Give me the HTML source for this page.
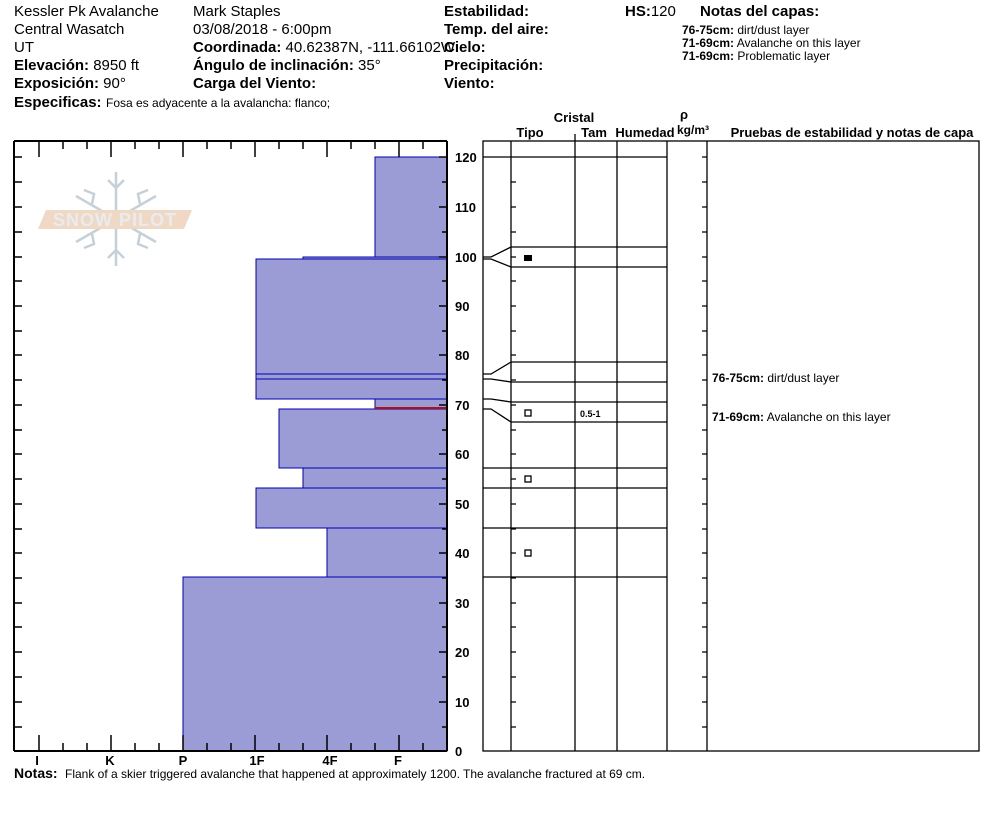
<!DOCTYPE html>
<html><head><meta charset="utf-8"><style>
html,body{margin:0;padding:0;background:#fff;}
svg{display:block;font-family:"Liberation Sans",Arial,sans-serif;}
.h{font-size:15px;fill:#000}
.b{font-weight:bold}
.s{font-size:12px}
.t{font-size:13px;font-weight:bold}
</style></head><body>
<svg width="994" height="840" viewBox="0 0 994 840" xmlns="http://www.w3.org/2000/svg">
<g class="h">
<text x="14" y="16">Kessler Pk Avalanche</text>
<text x="14" y="34">Central Wasatch</text>
<text x="14" y="52">UT</text>
<text x="14" y="70"><tspan class="b">Elevación:</tspan> 8950 ft</text>
<text x="14" y="88"><tspan class="b">Exposición:</tspan> 90°</text>
<text x="193" y="16">Mark Staples</text>
<text x="193" y="34">03/08/2018 - 6:00pm</text>
<text x="193" y="52"><tspan class="b">Coordinada:</tspan> 40.62387N, -111.66102W</text>
<text x="193" y="70"><tspan class="b">Ángulo de inclinación:</tspan> 35°</text>
<text x="193" y="88" class="b">Carga del Viento:</text>
<text x="444" y="16" class="b">Estabilidad:</text>
<text x="444" y="34" class="b">Temp. del aire:</text>
<text x="444" y="52" class="b">Cielo:</text>
<text x="444" y="70" class="b">Precipitación:</text>
<text x="444" y="88" class="b">Viento:</text>
<text x="625" y="16"><tspan class="b">HS:</tspan>120</text>
<text x="700" y="16" class="b">Notas del capas:</text>
</g>
<text x="14" y="107" class="h b">Especificas:</text>
<text x="106" y="107" class="s">Fosa es adyacente a la avalancha: flanco;</text>
<text x="682" y="34" class="s"><tspan class="b">76-75cm:</tspan> dirt/dust layer</text>
<text x="682" y="47" class="s"><tspan class="b">71-69cm:</tspan> Avalanche on this layer</text>
<text x="682" y="60" class="s"><tspan class="b">71-69cm:</tspan> Problematic layer</text>

<!-- logo -->
<g stroke="#c6d0d8" stroke-width="2.5" fill="none">
<line x1="116" y1="172" x2="116" y2="266"/>
<line x1="76" y1="196" x2="156" y2="242"/>
<line x1="76" y1="242" x2="156" y2="196"/>
<path d="M108 180l8 8 8-8M108 258l8-8 8 8M84 190l10 4-2 10M148 190l-10 4 2 10M84 248l10-4-2-10M148 248l-10-4 2-10"/>
</g>
<polygon points="46,210 192,210 184,229 38,229" fill="#f0d9c4"/>
<text x="115" y="226" text-anchor="middle" font-size="18" fill="#e8ecf0" font-weight="bold" letter-spacing="1">SNOW PILOT</text>

<!-- layers -->
<g fill="#9b9bd6" stroke="#0000b0" stroke-width="1">
<rect x="375" y="157" width="72" height="100"/>
<rect x="303" y="257" width="144" height="2"/>
<rect x="256" y="259" width="191" height="115"/>
<rect x="256" y="374" width="191" height="5"/>
<rect x="256" y="379" width="191" height="20"/>
<rect x="375" y="399" width="72" height="10"/>
<rect x="279" y="409" width="168" height="59"/>
<rect x="303" y="468" width="144" height="20"/>
<rect x="256" y="488" width="191" height="40"/>
<rect x="327" y="528" width="120" height="49"/>
<rect x="183" y="577" width="264" height="174"/>
</g>
<line x1="375" y1="408" x2="447" y2="408" stroke="#b01010" stroke-width="2"/>

<!-- left panel frame -->
<g stroke="#000" stroke-width="2" fill="none">
<line x1="14" y1="141" x2="447" y2="141"/>
<line x1="14" y1="751" x2="447" y2="751"/>
<line x1="14" y1="141" x2="14" y2="751"/>
<line x1="447" y1="141" x2="447" y2="751"/>
</g>
<g stroke="#000" stroke-width="1.5">
<path d="M39 141v16M63 141v8M87 141v8M111 141v16M135 141v8M159 141v8M183 141v16M207 141v8M231 141v8M255 141v16M279 141v8M303 141v8M327 141v16M351 141v8M375 141v8M399 141v16M423 141v8"/>
<path d="M39 751v-16M63 751v-8M87 751v-8M111 751v-16M135 751v-8M159 751v-8M183 751v-16M207 751v-8M231 751v-8M255 751v-16M279 751v-8M303 751v-8M327 751v-16M351 751v-8M375 751v-8M399 751v-16M423 751v-8"/>
<path d="M14 157h8M14 182h8M14 207h8M14 232h8M14 257h8M14 281h8M14 306h8M14 331h8M14 355h8M14 380h8M14 405h8M14 430h8M14 454h8M14 479h8M14 504h8M14 529h8M14 553h8M14 578h8M14 603h8M14 627h8M14 652h8M14 677h8M14 702h8M14 727h8"/>
<path d="M447 157h-8M447 182h-5M447 207h-8M447 232h-5M447 257h-8M447 281h-5M447 306h-8M447 331h-5M447 355h-8M447 380h-5M447 405h-8M447 430h-5M447 454h-8M447 479h-5M447 504h-8M447 529h-5M447 553h-8M447 578h-5M447 603h-8M447 627h-5M447 652h-8M447 677h-5M447 702h-8M447 727h-5"/>
</g>
<g class="t" text-anchor="middle">
<text x="37" y="765">I</text><text x="110" y="765">K</text><text x="183" y="765">P</text>
<text x="257" y="765">1F</text><text x="330" y="765">4F</text><text x="398" y="765">F</text>
</g>
<g font-size="13" font-weight="bold" text-anchor="start">
<text x="455" y="162">120</text><text x="455" y="212">110</text><text x="455" y="262">100</text>
<text x="455" y="311">90</text><text x="455" y="360">80</text><text x="455" y="410">70</text>
<text x="455" y="459">60</text><text x="455" y="509">50</text><text x="455" y="558">40</text>
<text x="455" y="608">30</text><text x="455" y="657">20</text><text x="455" y="707">10</text>
<text x="455" y="756">0</text>
</g>
<text x="14" y="778" class="b" font-size="14">Notas:</text>
<text x="65" y="778" class="s">Flank of a skier triggered avalanche that happened at approximately 1200. The avalanche fractured at 69 cm.</text>

<!-- right panel headers -->
<g font-size="13" font-weight="bold" text-anchor="middle">
<text x="574" y="122">Cristal</text>
<text x="530" y="137">Tipo</text>
<text x="594" y="137">Tam</text>
<text x="645" y="137">Humedad</text>
<text x="684" y="119">ρ</text>
<text x="693" y="134" font-size="12">kg/m³</text>
<text x="852" y="137">Pruebas de estabilidad y notas de capa</text>
</g>
<g stroke="#000" stroke-width="1.3" fill="none">
<rect x="483" y="141" width="496" height="610"/>
<line x1="511" y1="141" x2="511" y2="751"/>
<line x1="575" y1="141" x2="575" y2="751"/>
<line x1="617" y1="141" x2="617" y2="751"/>
<line x1="667" y1="141" x2="667" y2="751"/>
<line x1="707" y1="141" x2="707" y2="751"/>
<line x1="575" y1="134" x2="575" y2="141"/>
<path d="M483 157H667M511 247H667M511 267H667M511 362H667M511 382H667M511 402H667M511 422H667M483 468H667M483 488H667M483 528H667M483 577H667"/>
<path d="M483 257H491L511 247M483 259H491L511 267M483 374H491L511 362M483 379H491L511 382M483 399H491L511 402M483 409H491L511 422"/>
<path d="M511 182h5M511 207h5M511 232h5M511 257h5M511 281h5M511 306h5M511 331h5M511 355h5M511 380h5M511 405h5M511 430h5M511 454h5M511 479h5M511 504h5M511 529h5M511 553h5M511 578h5M511 603h5M511 627h5M511 652h5M511 677h5M511 702h5M511 727h5"/>
<path d="M707 157h-5M707 182h-5M707 207h-5M707 232h-5M707 257h-5M707 281h-5M707 306h-5M707 331h-5M707 355h-5M707 380h-5M707 405h-5M707 430h-5M707 454h-5M707 479h-5M707 504h-5M707 529h-5M707 553h-5M707 578h-5M707 603h-5M707 627h-5M707 652h-5M707 677h-5M707 702h-5M707 727h-5"/>
<rect x="525" y="410" width="6" height="6"/>
<rect x="525" y="476" width="6" height="6"/>
<rect x="525" y="550" width="6" height="6"/>
</g>
<rect x="524" y="255" width="8" height="6" fill="#000"/>
<text x="580" y="417" font-size="9" font-weight="bold">0.5-1</text>
<text x="712" y="382" class="s"><tspan class="b">76-75cm:</tspan> dirt/dust layer</text>
<text x="712" y="421" class="s"><tspan class="b">71-69cm:</tspan> Avalanche on this layer</text>
</svg>
</body></html>
